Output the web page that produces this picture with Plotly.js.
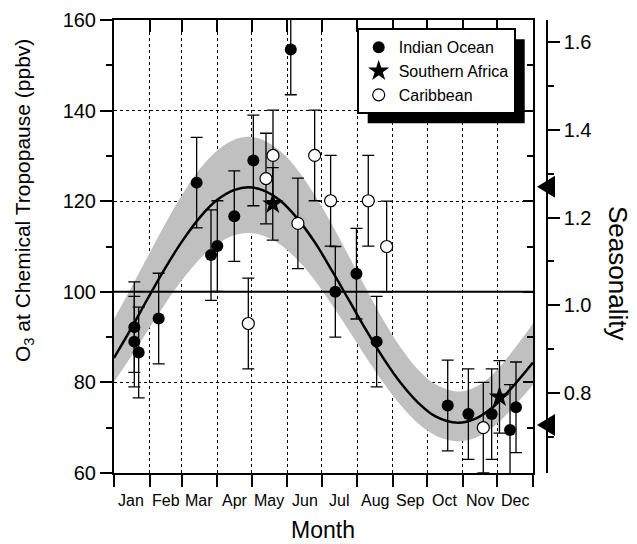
<!DOCTYPE html>
<html>
<head>
<meta charset="utf-8">
<script src="https://cdn.plot.ly/plotly-3.0.1.min.js"></script>
<style>html,body{margin:0;padding:0;background:#fff;}#chart{width:637px;height:544px;}</style>
</head>
<body>
<div id="chart"></div>
<script>
// ---------------- data ----------------
const monthNames = ['Jan','Feb','Mar','Apr','May','Jun','Jul','Aug','Sep','Oct','Nov','Dec'];
const monthStartDays = [0,31,59,90,120,151,181,212,243,273,304,334,365];
const monthMidDays = [15,45,74,105,135,166,196,227,258,288,319,349];

const indianDay = [17.7,17.7,21.5,38.9,72,84.5,90,104.8,121.4,154,192.8,211.2,228.8,290.7,308.7,329,345,350.2];
const indianO3  = [92.2,89.0,86.6,94.1,124.1,108.1,110.1,116.7,129.0,153.5,100.0,104.0,89.0,74.9,73.0,73.0,69.5,74.5];
const indianErr = [10,10,10,10,10,10,10,10,10,10,10,10,10,10,10,10,10,10];

const safricaDay = [138.3,335.8];
const safricaO3  = [119.4,76.8];
const safricaErr = [8,8];

const caribDay = [117,132.4,138.5,160.2,174.8,188.7,221.5,237.5,321.7];
const caribO3  = [93.0,125.0,130.1,115.1,130.1,120.1,120.1,110.0,70.0];
const caribErr = [10,10,10,10,10,10,10,10,10];

// seasonal fit curve and its uncertainty band
const fitDay    = [0,15,30,45,60,75,90,105,117,130,145,160,175,190,205,220,235,250,265,280,299.5,315,330,345,365];
const fitO3     = [85.4,91.9,98.8,105.4,111.4,116.5,120.3,122.5,123.1,122.4,120.1,116.1,110.9,104.6,98.0,91.4,85.2,79.8,75.5,72.5,71.1,72.0,74.5,78.4,84.4];
const bandUpper = [94.0,100.9,108.1,115.2,121.7,127.2,131.2,133.6,134.2,133.5,131.0,126.9,121.3,114.8,107.7,100.5,93.6,87.6,82.8,79.6,78.0,79.0,81.8,86.2,93.0];
const bandLower = [80.1,85.8,91.7,97.5,102.8,107.3,110.6,112.5,113.0,112.4,110.4,107.0,102.5,97.1,91.3,85.4,79.8,74.9,70.9,68.3,67.0,67.8,70.1,73.7,79.5];

const refLevel = 100;               // solid reference line (ppbv)
const seasonNorm = 97;              // ppbv corresponding to seasonality 1.0
const seasonMarks = [1.27, 0.728];  // max / min seasonality markers

const o3Range = [60,160];
const dayRange = [0,365];

// ---------------- layout geometry (pixels) ----------------
const W = 637, H = 544;
const L = 114, R = 77, T = 20, B = 71;
const PW = W - L - R, PH = H - T - B;
const plotRightPx = 533, seasonAxisPx = 546.7;
const px2x = p => (p - L) / PW;
const px2y = p => (H - B - p) / PH;
const FONT = 'Arial, "Liberation Sans", Helvetica, sans-serif';
const D = (plotRightPx - L) / PW;

const errStyle = arr => ({type:'data', array:arr, visible:true, color:'#000', thickness:1.3, width:6});

const traces = [
  {x:fitDay, y:bandLower, mode:'lines', line:{width:0, shape:'spline'}, showlegend:false, hoverinfo:'skip'},
  {x:fitDay, y:bandUpper, mode:'lines', line:{width:0, shape:'spline'}, fill:'tonexty', fillcolor:'#c0c0c0', showlegend:false, hoverinfo:'skip'},
  {x:dayRange, y:[refLevel, refLevel], mode:'lines', line:{color:'#000', width:2}, showlegend:false, hoverinfo:'skip'},
  {x:fitDay, y:fitO3, mode:'lines', line:{color:'#000', width:2.5, shape:'spline'}, showlegend:false},
  {x:indianDay, y:indianO3, name:'Indian Ocean', mode:'markers', marker:{symbol:'circle', size:12, color:'#000'}, error_y:errStyle(indianErr)},
  {x:safricaDay, y:safricaO3, name:'Southern Africa', mode:'markers', marker:{symbol:'star', size:16, color:'#000'}, error_y:errStyle(safricaErr)},
  {x:caribDay, y:caribO3, name:'Caribbean', mode:'markers', marker:{symbol:'circle', size:12, color:'#fff', line:{color:'#000', width:1.2}}, error_y:errStyle(caribErr)},
  // invisible trace that instantiates the mirrored frame axes (top / right inner ticks)
  {x:dayRange, y:o3Range, xaxis:'x3', yaxis:'y3', mode:'markers', marker:{opacity:0}, showlegend:false, hoverinfo:'skip'},
  // invisible trace that instantiates the seasonality axis
  {x:dayRange, y:[o3Range[0]/seasonNorm, o3Range[1]/seasonNorm], xaxis:'x', yaxis:'y2', mode:'markers', marker:{opacity:0}, showlegend:false, hoverinfo:'skip'}
];

const monthLabelAnnots = monthNames.map((m, i) => ({
  text:m, xref:'x', yref:'paper', x:monthMidDays[i], y:px2y(500), xanchor:'center', yanchor:'middle', showarrow:false, font:{size:16}
}));

const triangleShapes = seasonMarks.map(v => ({
  type:'path', xref:'paper', xsizemode:'pixel', xanchor:px2x(537), yref:'y2', ysizemode:'pixel', yanchor:v,
  path:'M 0 0 L 18 11 L 18 -11 Z', fillcolor:'#000', line:{width:0}, layer:'above'
}));

const layout = {
  width:W, height:H,
  margin:{l:L, r:R, t:T, b:B, pad:0},
  paper_bgcolor:'#fff', plot_bgcolor:'#fff',
  font:{family:FONT, color:'#000'},
  showlegend:true,
  xaxis:{domain:[0,D], range:dayRange, tickvals:monthStartDays, showticklabels:false, ticks:'outside', ticklen:12, tickwidth:2, tickcolor:'#000',
         showgrid:true, griddash:'dot', gridcolor:'#000', gridwidth:1, zeroline:false, showline:true, linecolor:'#000', linewidth:2},
  xaxis3:{overlaying:'x', anchor:'y3', side:'top', domain:[0,D], range:dayRange, tickvals:monthStartDays, ticks:'inside', ticklen:12, tickwidth:2, tickcolor:'#000',
          showticklabels:false, showgrid:false, zeroline:false, showline:true, linecolor:'#000', linewidth:2},
  yaxis:{range:o3Range, tick0:0, dtick:20, ticks:'outside', ticklen:12, tickwidth:2, tickcolor:'#000', tickfont:{size:20},
         minor:{dtick:10, ticks:'outside', ticklen:6, tickwidth:2, tickcolor:'#000', showgrid:false},
         showgrid:true, griddash:'dot', gridcolor:'#000', gridwidth:1, zeroline:false, showline:true, linecolor:'#000', linewidth:2},
  yaxis3:{overlaying:'y', anchor:'x3', side:'right', range:o3Range, tick0:0, dtick:20, ticks:'inside', ticklen:10, tickwidth:2, tickcolor:'#000',
          minor:{dtick:10, ticks:'inside', ticklen:6, tickwidth:2, tickcolor:'#000', showgrid:false},
          showticklabels:false, showgrid:false, zeroline:false, showline:true, linecolor:'#000', linewidth:2},
  yaxis2:{overlaying:'y', anchor:'free', position:px2x(seasonAxisPx), side:'right', range:[o3Range[0]/seasonNorm, o3Range[1]/seasonNorm],
          tick0:0, dtick:0.2, tickformat:'.1f', ticks:'outside', ticklen:12, tickwidth:2, tickcolor:'#000', tickfont:{size:20},
          minor:{dtick:0.1, ticks:'outside', ticklen:6, tickwidth:2, tickcolor:'#000', showgrid:false},
          showgrid:false, zeroline:false, showline:true, linecolor:'#000', linewidth:2},
  legend:{x:px2x(356.7), y:px2y(28.3), xanchor:'left', yanchor:'top', bgcolor:'#fff', bordercolor:'#000', borderwidth:2,
          font:{size:16, family:FONT}, tracegroupgap:0, itemwidth:30, traceorder:'normal'},
  shapes:triangleShapes.slice(),
  annotations:[
    {text:'O<sub>3</sub> at Chemical Tropopause (ppbv)', textangle:-90, xref:'paper', yref:'paper', x:px2x(24), y:px2y(201), xanchor:'center', yanchor:'middle', showarrow:false, font:{size:21}},
    {text:'Month', xref:'paper', yref:'paper', x:px2x(323), y:px2y(530), xanchor:'center', yanchor:'middle', showarrow:false, font:{size:23}},
    {text:'Seasonality', textangle:90, xref:'paper', yref:'paper', x:px2x(618), y:px2y(273), xanchor:'center', yanchor:'middle', showarrow:false, font:{size:26}}
  ].concat(monthLabelAnnots)
};

Plotly.newPlot('chart', traces, layout, {displayModeBar:false, staticPlot:true}).then(gd => {
  // drop shadow behind the legend box, offset 10 px right and down
  const bg = gd.querySelector('.legend .bg');
  if (!bg) return;
  const r = bg.getBoundingClientRect();
  const host = gd.getBoundingClientRect();
  const off = 10;
  const left = r.left - host.left + off, right = r.right - host.left + off;
  const top = r.top - host.top + off, bottom = r.bottom - host.top + off;
  const shadow = {type:'rect', xref:'paper', yref:'paper', x0:px2x(left), x1:px2x(right), y0:px2y(bottom), y1:px2y(top),
                  fillcolor:'#000', line:{width:0}, layer:'above'};
  return Plotly.relayout(gd, {shapes:triangleShapes.concat([shadow])});
});
</script>
</body>
</html>
